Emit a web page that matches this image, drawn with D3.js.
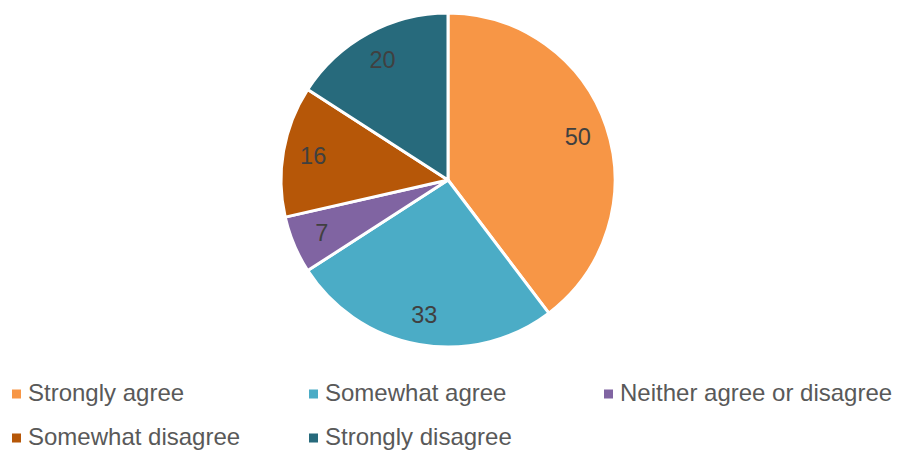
<!DOCTYPE html>
<html>
<head>
<meta charset="utf-8">
<script src="https://cdn.jsdelivr.net/npm/d3@7"></script>
<style>
  body { margin: 0; background: #fff; }
  svg { display: block; font-family: "Liberation Sans", Arial, sans-serif; }
</style>
</head>
<body>
<div id="chart"></div>
<script>
// data
var categories = ["Strongly agree", "Somewhat agree", "Neither agree or disagree", "Somewhat disagree", "Strongly disagree"];
var values = [50, 33, 7, 16, 20];
var colours = ["#F79646", "#4BACC6", "#8064A2", "#B65708", "#276A7C"];

var width = 897, height = 451;
var cx = 448, cy = 180, radius = 167;

var svg = d3.select("#chart")
  .append("svg")
  .attr("width", width)
  .attr("height", height);

var slices = categories.map(function(c, i){ return {name: c, value: values[i], colour: colours[i]}; });

var pie = d3.pie()
  .sort(null)
  .value(function(d){ return d.value; });

var arc = d3.arc()
  .innerRadius(0)
  .outerRadius(radius);

var labelArc = d3.arc()
  .innerRadius(radius * 0.82)
  .outerRadius(radius * 0.82);

var g = svg.append("g")
  .attr("transform", "translate(" + cx + "," + cy + ")");

var arcs = pie(slices);

g.selectAll("path")
  .data(arcs)
  .enter()
  .append("path")
  .attr("d", arc)
  .attr("fill", function(d){ return d.data.colour; })
  .attr("stroke", "#fff")
  .attr("stroke-width", 3)
  .attr("stroke-linejoin", "round");

g.selectAll("text")
  .data(arcs)
  .enter()
  .append("text")
  .attr("transform", function(d){ return "translate(" + labelArc.centroid(d) + ")"; })
  .attr("text-anchor", "middle")
  .attr("dy", "0.35em")
  .attr("fill", "#404040")
  .style("font-size", "23.5px")
  .text(function(d){ return d.data.value; });

// legend, three columns then wrap
var colX = [12, 309, 604];
var rowY = [393, 437];

var legend = svg.append("g");
var items = legend.selectAll("g")
  .data(slices)
  .enter()
  .append("g")
  .attr("transform", function(d, i){
    return "translate(" + colX[i % 3] + "," + rowY[Math.floor(i / 3)] + ")";
  });

items.append("rect")
  .attr("x", 0)
  .attr("y", -3.5)
  .attr("width", 9)
  .attr("height", 9)
  .attr("fill", function(d){ return d.colour; });

items.append("text")
  .attr("x", 16)
  .attr("dy", "0.35em")
  .attr("fill", "#595959")
  .style("font-size", "24px")
  .text(function(d){ return d.name; });
</script>
</body>
</html>
